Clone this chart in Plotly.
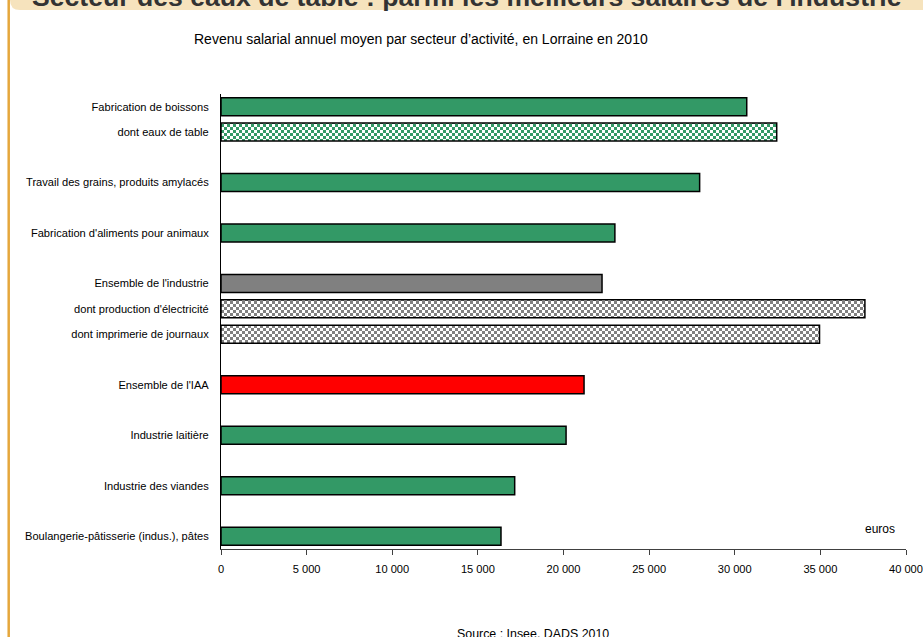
import plotly.graph_objects as go

# ---- data ----
categories = [
    "Fabrication de boissons",
    "dont eaux de table",
    " ",
    "Travail des grains, produits amylacés",
    "  ",
    "Fabrication d'aliments pour animaux",
    "   ",
    "Ensemble de l'industrie",
    "dont production d'électricité",
    "dont imprimerie de journaux",
    "    ",
    "Ensemble de l'IAA",
    "     ",
    "Industrie laitière",
    "      ",
    "Industrie des viandes",
    "       ",
    "Boulangerie-pâtisserie (indus.), pâtes",
]
values = [30700, 32450, None, 27950, None, 23000, None, 22250, 37600, 34950,
          None, 21200, None, 20150, None, 17150, None, 16350]
styles = ["green", "green_check", None, "green", None, "green", None, "gray",
          "gray_check", "gray_check", None, "red", None, "green", None, "green",
          None, "green"]
x_ticks = [0, 5000, 10000, 15000, 20000, 25000, 30000, 35000, 40000]

GREEN = "#339966"
GRAY = "#808080"
RED = "#FF0000"
FONT = "Liberation Sans, Arial, sans-serif"

W, H = 923, 637
ML, MR, MT, MB = 221, 17, 94, 88
PW, PH = W - ML - MR, H - MT - MB


def px_x(p):
    return (p - ML) / PW


def px_y(p):
    return (H - MB - p) / PH


fig = go.Figure()

solid_colors = {"green": GREEN, "gray": GRAY, "red": RED}
solid_x = [v if s in solid_colors else None for v, s in zip(values, styles)]
solid_c = [solid_colors.get(s, "white") for s in styles]
fig.add_trace(go.Bar(
    y=categories, x=solid_x, orientation="h",
    marker=dict(color=solid_c, line=dict(color="black", width=1.5)),
    hoverinfo="x+y", showlegend=False,
))

checker_path = "M0,0H3V3H0ZM3,3H6V6H3Z"
for style, col in (("green_check", GREEN), ("gray_check", GRAY)):
    xs = [v if s == style else None for v, s in zip(values, styles)]
    fig.add_trace(go.Bar(
        y=categories, x=xs, orientation="h",
        marker=dict(color="white", line=dict(color="black", width=1.5),
                    pattern=dict(path=checker_path, size=6, fgcolor=col,
                                 bgcolor="white", fgopacity=1, solidity=1,
                                 fillmode="replace")),
        hoverinfo="x+y", showlegend=False,
    ))

n = len(categories)
fig.update_layout(
    width=W, height=H,
    margin=dict(l=ML, r=MR, t=MT, b=MB, autoexpand=False),
    paper_bgcolor="white", plot_bgcolor="white",
    barmode="overlay", bargap=0.287,
    separators=", ",
    font=dict(family=FONT, size=12, color="black"),
    xaxis=dict(range=[0, 40000], tickvals=x_ticks, tickformat=",.0f",
               showgrid=False, zeroline=False, showline=True,
               linecolor="#404040", linewidth=1, ticks="outside", ticklen=5,
               tickcolor="#404040", ticklabelstandoff=5,
               ticklabeloverflow="allow", automargin=False,
               tickfont=dict(size=11.1, family=FONT)),
    yaxis=dict(type="category", categoryorder="array", categoryarray=categories,
               range=[n - 0.5, -0.5], showgrid=False, zeroline=False,
               showline=True, linecolor="black", linewidth=1, ticks="",
               ticklabelstandoff=9, automargin=False,
               tickfont=dict(size=11.1, family=FONT)),
)

# decorations: banner, left border
bx0, bx1 = px_x(10), px_x(940)
by0, by1 = px_y(10), px_y(-30)
rx, ry = 10 / PW, 10 / PH
fig.add_shape(type="path", xref="paper", yref="paper",
              path=f"M{bx0},{by1} L{bx0},{by0 + ry} Q{bx0},{by0} {bx0 + rx},{by0} "
                   f"L{bx1},{by0} L{bx1},{by1} Z",
              fillcolor="#F6E3BD", line=dict(width=0))
fig.add_shape(type="line", xref="paper", yref="paper",
              x0=px_x(8.7), x1=px_x(8.7), y0=px_y(0), y1=px_y(640),
              line=dict(color="#E5A73C", width=2.5))

fig.add_annotation(xref="paper", yref="paper", x=px_x(467), y=px_y(14.5),
                   xanchor="center", yanchor="bottom", showarrow=False,
                   text="Secteur des eaux de table : parmi les meilleurs salaires de l'industrie",
                   font=dict(family=FONT, size=26.6, color="#333333", weight="bold"))
fig.add_annotation(xref="paper", yref="paper", x=px_x(421), y=px_y(39),
                   xanchor="center", yanchor="middle", showarrow=False,
                   text="Revenu salarial annuel moyen par secteur d’activité, en Lorraine en 2010",
                   font=dict(family=FONT, size=14, color="black"))
fig.add_annotation(xref="paper", yref="paper", x=px_x(880), y=px_y(529),
                   xanchor="center", yanchor="middle", showarrow=False,
                   text="euros", font=dict(family=FONT, size=12, color="black"))
fig.add_annotation(xref="paper", yref="paper", x=px_x(533), y=px_y(634),
                   xanchor="center", yanchor="middle", showarrow=False,
                   text="Source : Insee, DADS 2010",
                   font=dict(family=FONT, size=12.4, color="black"))

fig.write_html("out.html")
